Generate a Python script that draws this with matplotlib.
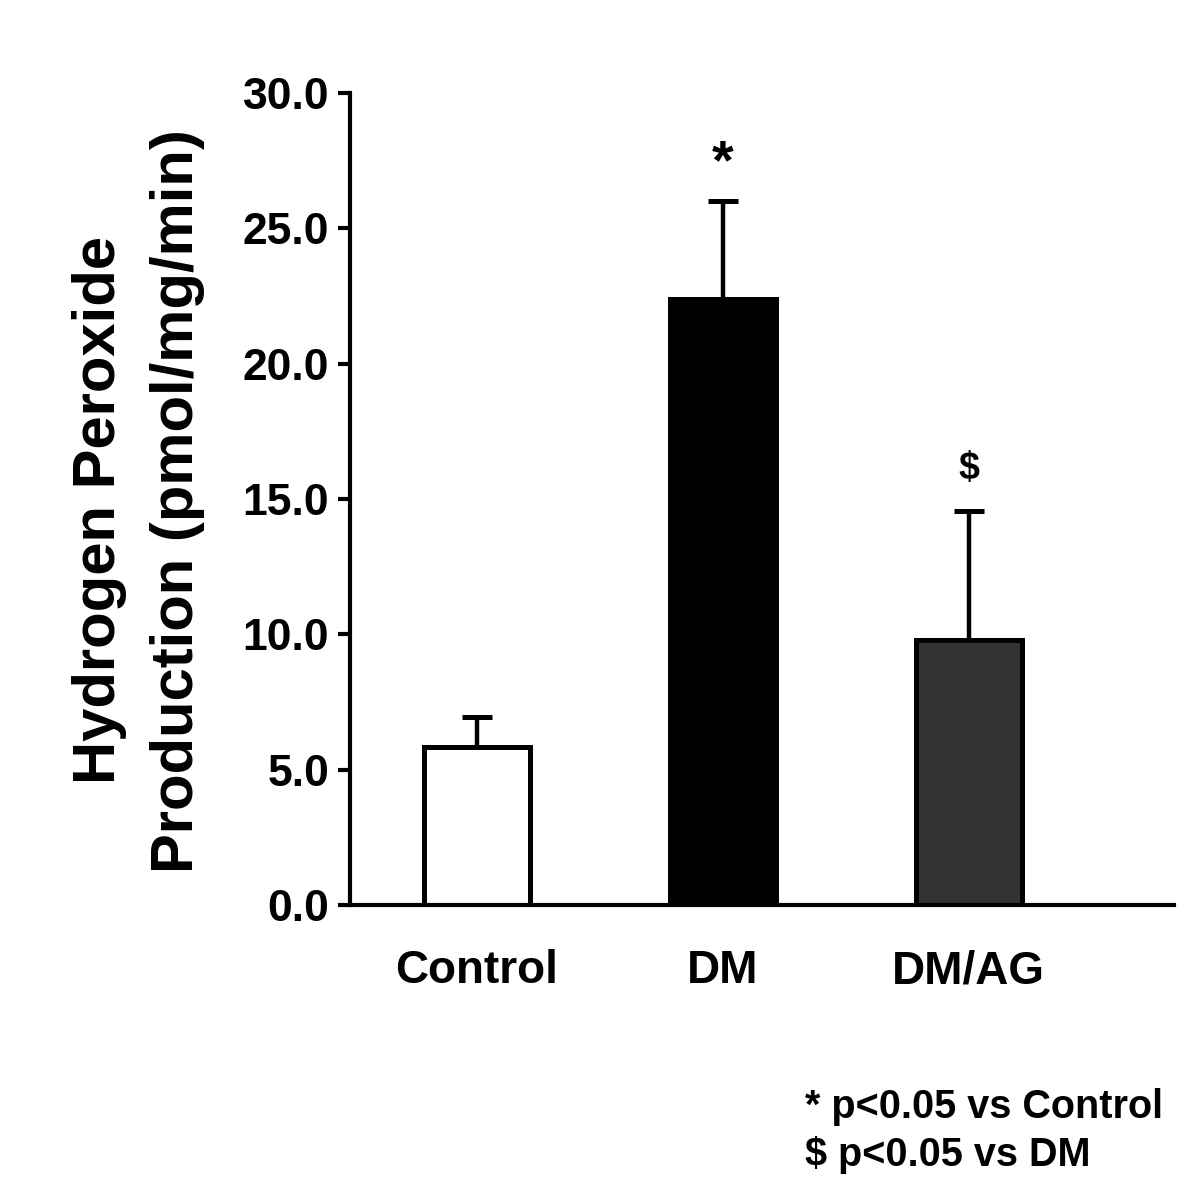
import numpy as np
import matplotlib
matplotlib.use("Agg")
import matplotlib.pyplot as plt

plt.rcParams['font.family'] = ['Liberation Sans', 'DejaVu Sans']
plt.rcParams['font.weight'] = 'bold'

# datos
grupos = ["Control", "DM", "DM/AG"]
medias = [5.85, 22.4, 9.8]
errores = [1.1, 3.6, 4.75]
colores = ["white", "black", "#333333"]
marcas = ["", "*", "$"]
ticks_y = [0, 5, 10, 15, 20, 25, 30]

fig = plt.figure(figsize=(12, 11.94), dpi=100)
ax = fig.add_axes([0.2917, 0.242, 0.687, 0.680])

x = np.arange(len(grupos))
ax.bar(x, medias, width=0.43, color=colores, edgecolor="black", linewidth=3.6, zorder=2)
ax.errorbar(x, medias, yerr=[np.zeros(len(errores)), errores], fmt="none",
            ecolor="black", elinewidth=3.2, capsize=11, capthick=3.6, zorder=1)

# marcas de significancia encima de las barras
for i, m in enumerate(marcas):
    if m == "*":
        ax.text(x[i], medias[i] + errores[i] + 0.85, m, ha="center", va="baseline",
                fontsize=40, fontweight="bold")
    elif m == "$":
        ax.text(x[i], medias[i] + errores[i] + 1.2, m, ha="center", va="baseline",
                fontsize=27, fontweight="bold")

ax.set_xlim(-0.516, 2.837)
ax.set_ylim(0, 30)
ax.set_yticks(ticks_y)
ax.set_yticklabels([f"{t:.1f}" for t in ticks_y], fontsize=32, fontweight="bold")
ax.set_xticks(x)
ax.set_xticklabels(grupos, fontsize=33, fontweight="bold")
ax.tick_params(axis="x", length=0, pad=32)
ax.tick_params(axis="y", length=9, width=3, pad=6)

for s in ["top", "right"]:
    ax.spines[s].set_visible(False)
for s in ["left", "bottom"]:
    ax.spines[s].set_linewidth(3)

# titulo del eje y en dos lineas centradas
fig.text(100 / 1200, 1 - 510 / 1194, "Hydrogen Peroxide", rotation=90,
         ha="center", va="center", fontsize=43, fontweight="bold")
fig.text(178 / 1200, 1 - 501 / 1194, "Production (pmol/mg/min)", rotation=90,
         ha="center", va="center", fontsize=43, fontweight="bold")

fig.text(805 / 1200, 1 - 1107 / 1194, "* p<0.05 vs Control", ha="left", va="center",
         fontsize=28.5, fontweight="bold")
fig.text(805 / 1200, 1 - 1155 / 1194, "$ p<0.05 vs DM", ha="left", va="center",
         fontsize=28.5, fontweight="bold")

fig.savefig("out.png", dpi=100)
